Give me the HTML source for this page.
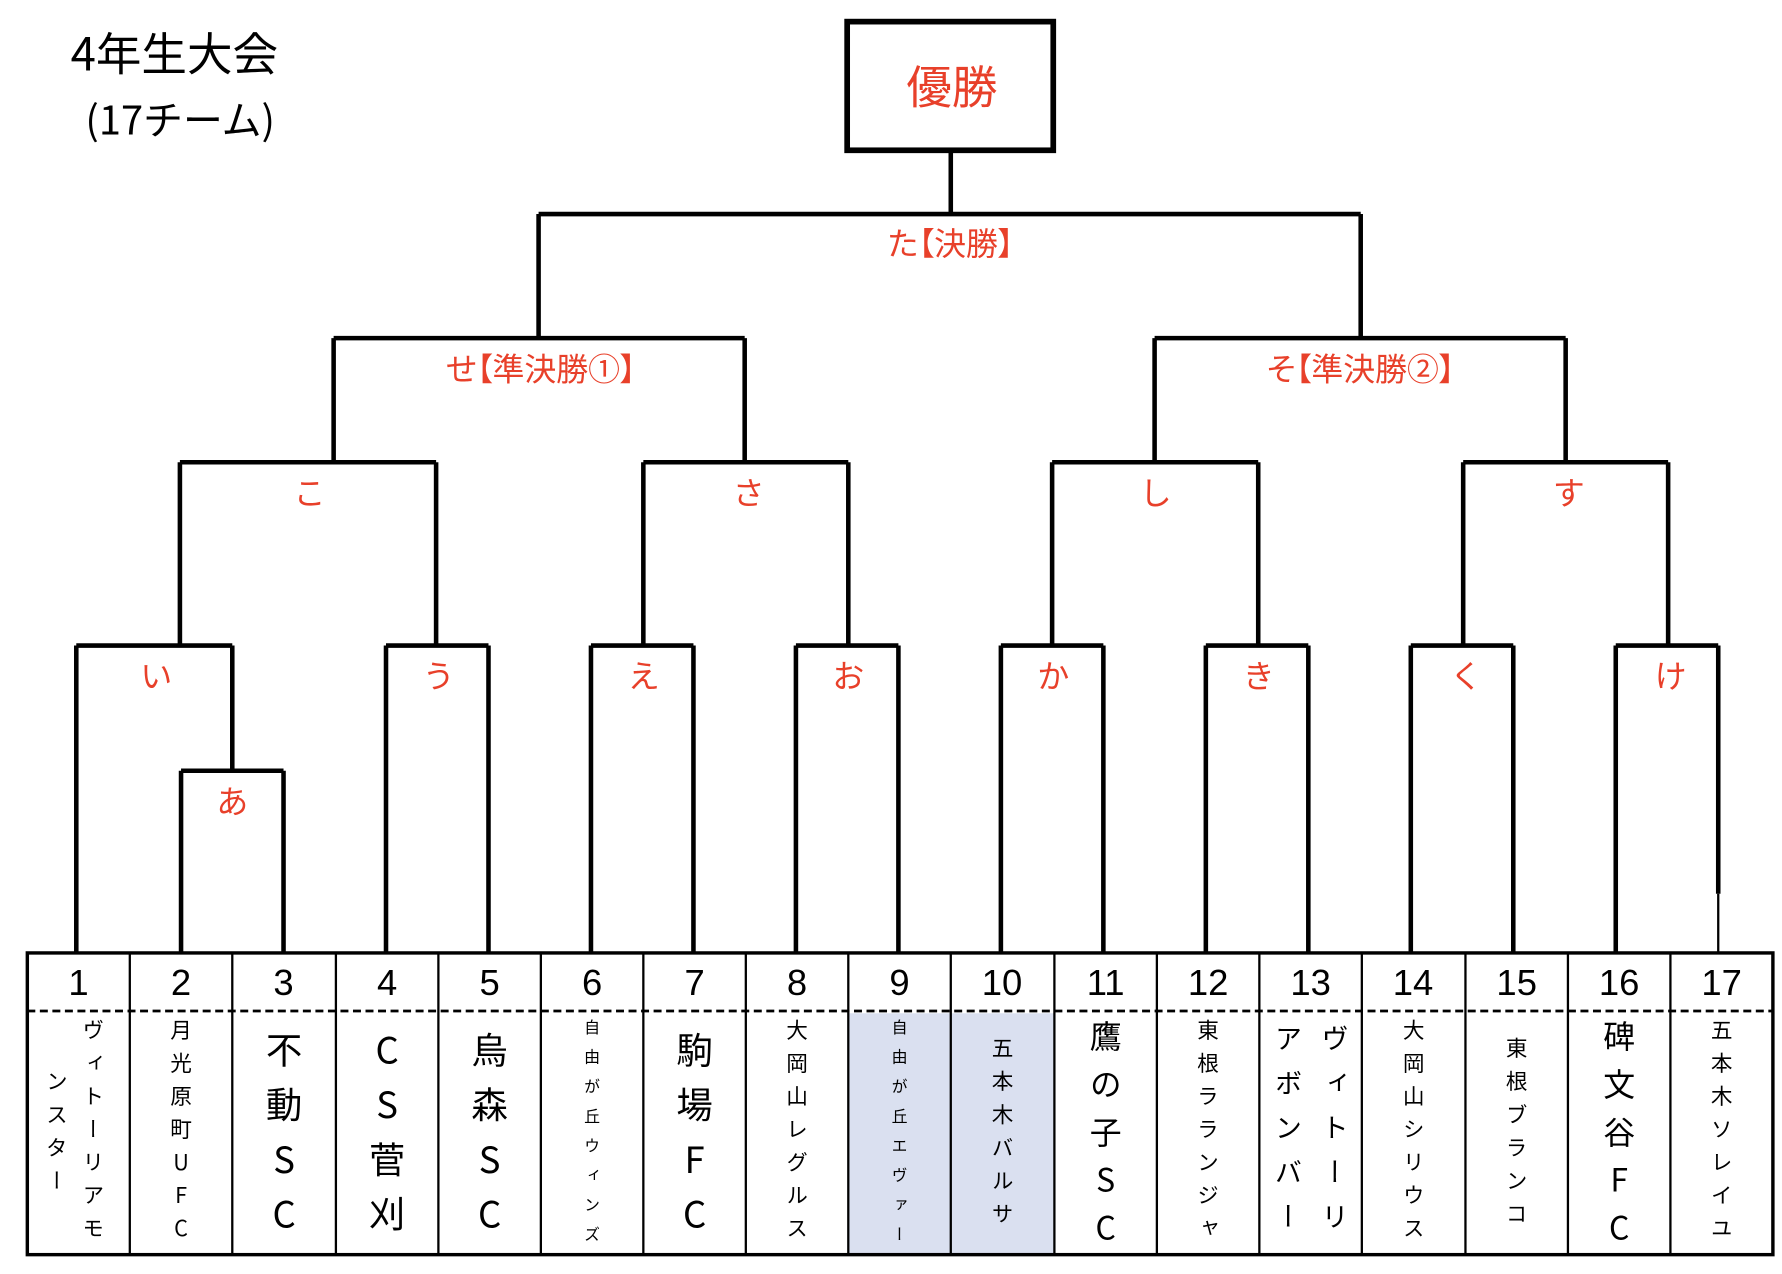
<!DOCTYPE html>
<html><head><meta charset="utf-8"><style>
html,body{margin:0;padding:0;background:#fff;}
#wrap{position:relative;width:1782px;height:1274px;overflow:hidden;}
#s{position:absolute;left:0;top:0;width:1565px;height:1119px;transform:scale(1.13866,1.13852);transform-origin:0 0;font-family:"Liberation Sans","Noto Sans CJK JP",sans-serif;}
.t{position:absolute;display:flex;justify-content:center;}
.v{writing-mode:vertical-rl;text-orientation:upright;line-height:1;font-family:"Noto Sans CJK JP",sans-serif;color:#000;white-space:nowrap;}
.r{position:absolute;color:#e8402a;font-size:28px;transform:translateX(-50%);white-space:nowrap;font-family:"Noto Sans CJK JP",sans-serif;line-height:1;font-feature-settings:"palt";}
</style></head><body><div id="wrap"><div id="s">
<svg width="1565" height="1119" style="position:absolute;left:0;top:0">
<rect x="745" y="890" width="181" height="212" fill="#dae0f0"/>
<g stroke="#000" stroke-width="4" fill="none">
<rect x="744" y="19" width="181" height="113" stroke-width="5"/>
<path d="M835 132V188M473 188H1195M473 188V297M1195 188V297"/>
<path d="M293 297H654M293 297V406M654 297V406M1014 297H1375M1014 297V406M1375 297V406"/>
<path d="M158 406H383M158 406V567M383 406V567M565 406H745M565 406V567M745 406V567M924 406H1105M924 406V567M1105 406V567M1285 406H1465M1285 406V567M1465 406V567"/>
<path d="M67 567H204M67 567V837M204 567V677M159 677H249M159 677V837M249 677V837"/>
<path d="M339 567H429M339 567V837M429 567V837M519 567H609M519 567V837M609 567V837M699 567H789M699 567V837M789 567V837M879 567H969M879 567V837M969 567V837M1059 567H1149M1059 567V837M1149 567V837M1239 567H1329M1239 567V837M1329 567V837M1419 567H1509M1419 567V837M1509 567V785"/>
<path d="M1509 785V837" stroke-width="2"/>
<rect x="24" y="837" width="1533" height="265" stroke-width="3"/>
<path d="M24 888H1557" stroke-dasharray="7,4" stroke-width="2.5"/>
<path stroke-width="2" d="M114 837V1102M204 837V1102M295 837V1102M385 837V1102M475 837V1102M565 837V1102M655 837V1102M745 837V1102M835 837V1102M926 837V1102M1016 837V1102M1106 837V1102M1196 837V1102M1287 837V1102M1377 837V1102M1467 837V1102"/>
</g>
<g font-family="Liberation Sans, sans-serif" font-size="32" text-anchor="middle" fill="#000">
<text x="69" y="874">1</text><text x="159" y="874">2</text><text x="249" y="874">3</text><text x="340" y="874">4</text><text x="430" y="874">5</text><text x="520" y="874">6</text><text x="610" y="874">7</text><text x="700" y="874">8</text><text x="790" y="874">9</text><text x="880" y="874">10</text><text x="971" y="874">11</text><text x="1061" y="874">12</text><text x="1151" y="874">13</text><text x="1241" y="874">14</text><text x="1332" y="874">15</text><text x="1422" y="874">16</text><text x="1512" y="874">17</text>
</g>
</svg>
<div style="position:absolute;left:62px;top:25px;font-size:40px;font-family:'Noto Sans CJK JP',sans-serif;line-height:1">4年生大会</div>
<div style="position:absolute;left:75px;top:86px;font-size:35px;font-family:'Noto Sans CJK JP',sans-serif;line-height:1">(17チーム)</div>
<div class="r" style="left:836px;top:54px;font-size:40px">優勝</div>
<div class="r" style="left:835px;top:199px">た【決勝】</div>
<div class="r" style="left:475px;top:309px">せ【準決勝①】</div>
<div class="r" style="left:1195px;top:309px">そ【準決勝②】</div>
<div class="r" style="left:272px;top:418px">こ</div>
<div class="r" style="left:657px;top:418px">さ</div>
<div class="r" style="left:1015px;top:418px">し</div>
<div class="r" style="left:1378px;top:418px">す</div>
<div class="r" style="left:137px;top:579px">い</div>
<div class="r" style="left:385px;top:579px">う</div>
<div class="r" style="left:565px;top:579px">え</div>
<div class="r" style="left:745px;top:579px">お</div>
<div class="r" style="left:925px;top:579px">か</div>
<div class="r" style="left:1105px;top:579px">き</div>
<div class="r" style="left:1287px;top:579px">く</div>
<div class="r" style="left:1467px;top:579px">け</div>
<div class="r" style="left:204px;top:689px">あ</div>

<div class="t" style="left:70px;width:24px;top:895px"><span class="v" style="font-size:19px;letter-spacing:10px">ヴィトーリアモ</span></div>
<div class="t" style="left:38px;width:24px;top:940px"><span class="v" style="font-size:19px;letter-spacing:10px">ンスター</span></div>
<div class="t" style="left:114px;width:90px;top:895px"><span class="v" style="font-size:19px;letter-spacing:10px">月光原町UFC</span></div>
<div class="t" style="left:204px;width:91px;top:906px"><span class="v" style="font-size:32px;letter-spacing:16px">不動SC</span></div>
<div class="t" style="left:295px;width:90px;top:906px"><span class="v" style="font-size:32px;letter-spacing:16px">CS菅刈</span></div>
<div class="t" style="left:385px;width:90px;top:906px"><span class="v" style="font-size:32px;letter-spacing:16px">烏森SC</span></div>
<div class="t" style="left:475px;width:90px;top:895px"><span class="v" style="font-size:14px;letter-spacing:12px">自由が丘ウィンズ</span></div>
<div class="t" style="left:565px;width:90px;top:906px"><span class="v" style="font-size:32px;letter-spacing:16px">駒場FC</span></div>
<div class="t" style="left:655px;width:90px;top:895px"><span class="v" style="font-size:19px;letter-spacing:10px">大岡山レグルス</span></div>
<div class="t" style="left:745px;width:90px;top:895px"><span class="v" style="font-size:14px;letter-spacing:12px">自由が丘エヴァー</span></div>
<div class="t" style="left:835px;width:91px;top:911px"><span class="v" style="font-size:19px;letter-spacing:10px">五本木バルサ</span></div>
<div class="t" style="left:926px;width:90px;top:896px"><span class="v" style="font-size:28px;letter-spacing:14px">鷹の子SC</span></div>
<div class="t" style="left:1016px;width:90px;top:895px"><span class="v" style="font-size:19px;letter-spacing:10px">東根ラランジャ</span></div>
<div class="t" style="left:1158px;width:28px;top:900px"><span class="v" style="font-size:24px;letter-spacing:15px">ヴィトーリ</span></div>
<div class="t" style="left:1117px;width:28px;top:900px"><span class="v" style="font-size:24px;letter-spacing:15px">アボンバー</span></div>
<div class="t" style="left:1196px;width:91px;top:895px"><span class="v" style="font-size:19px;letter-spacing:10px">大岡山シリウス</span></div>
<div class="t" style="left:1287px;width:90px;top:911px"><span class="v" style="font-size:19px;letter-spacing:10px">東根ブランコ</span></div>
<div class="t" style="left:1377px;width:90px;top:896px"><span class="v" style="font-size:28px;letter-spacing:14px">碑文谷FC</span></div>
<div class="t" style="left:1467px;width:90px;top:895px"><span class="v" style="font-size:19px;letter-spacing:10px">五本木ソレイユ</span></div>
</div></div></body></html>
